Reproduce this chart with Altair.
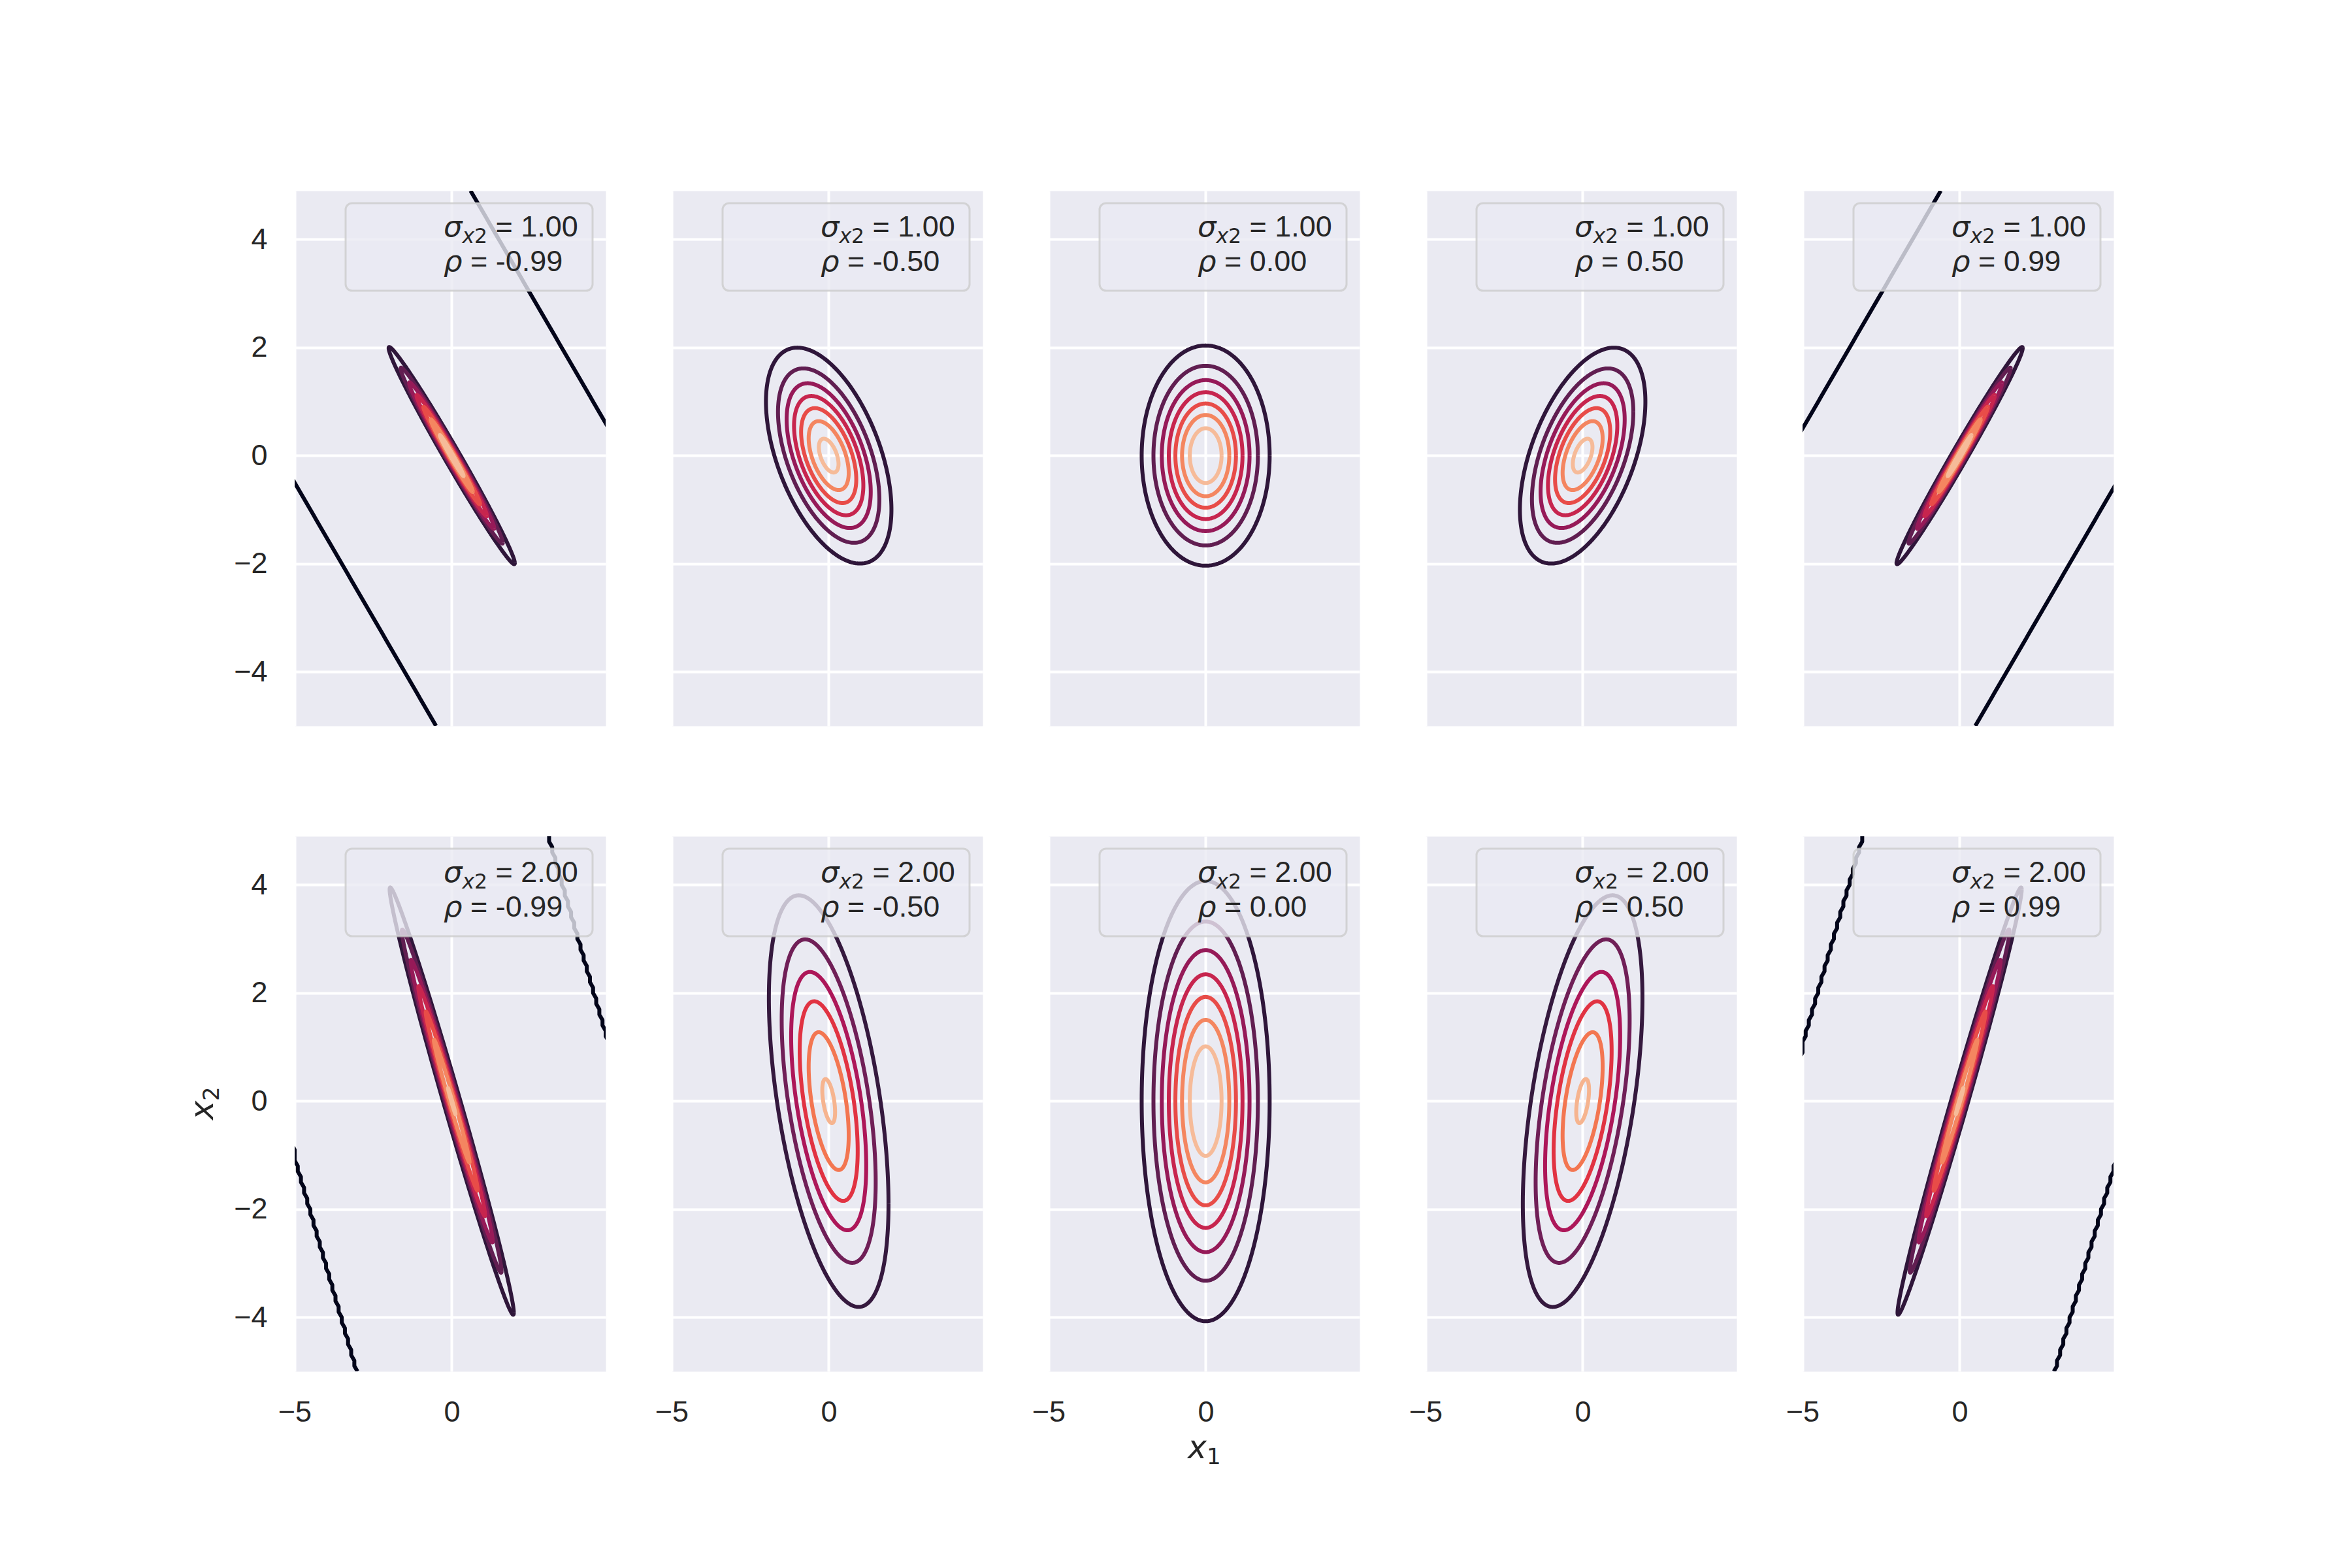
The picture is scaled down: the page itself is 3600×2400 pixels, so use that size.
import numpy as np
import pandas as pd
import altair as alt

# ---- data -------------------------------------------------------------------
sigma_x1 = 1.0
sigma_x2_rows = [1.0, 2.0]
rho_cols = [-0.99, -0.50, 0.00, 0.50, 0.99]

# contour levels of the density (per panel) and the top of the colour norm
levels_r0 = {
    -0.99: [0.0, 0.15, 0.30, 0.45, 0.60, 0.75, 0.90, 1.05],
    -0.50: [0.025, 0.05, 0.075, 0.10, 0.125, 0.15, 0.175],
    0.00: [0.02, 0.04, 0.06, 0.08, 0.10, 0.12, 0.14],
    0.50: [0.025, 0.05, 0.075, 0.10, 0.125, 0.15, 0.175],
    0.99: [0.0, 0.15, 0.30, 0.45, 0.60, 0.75, 0.90, 1.05],
}
vmax_r0 = {-0.99: 1.2, -0.50: 0.2, 0.00: 0.16, 0.50: 0.2, 0.99: 1.2}
levels_r1 = {
    -0.99: [0.0, 0.08, 0.16, 0.24, 0.32, 0.40, 0.48, 0.56],
    -0.50: [0.015, 0.03, 0.045, 0.06, 0.075, 0.09],
    0.00: [0.01, 0.02, 0.03, 0.04, 0.05, 0.06, 0.07],
    0.50: [0.015, 0.03, 0.045, 0.06, 0.075, 0.09],
    0.99: [0.0, 0.08, 0.16, 0.24, 0.32, 0.40, 0.48, 0.56],
}
vmax_r1 = {-0.99: 0.64, -0.50: 0.105, 0.00: 0.08, 0.50: 0.105, 0.99: 0.64}
# squared Mahalanobis distance where the density underflows to 0 (level-0 contour)
underflow_d2 = 1490.0
grid_step = 0.1   # sampling grid of the original density

x_ticks = [-5, 0]
y_ticks = [-4, -2, 0, 2, 4]
axis_domain = [-5, 4.9]

# rocket colormap anchors
rocket_pos = [0.0, 1 / 7, 2 / 7, 3 / 7, 4 / 7, 5 / 7, 6 / 7, 1.0]
rocket_hex = ["#03051A", "#35193E", "#701F57", "#AD1759", "#E13342", "#F37651", "#F6B48F", "#FAEBDD"]


def rocket(t):
    rgb = np.array([[int(h[i:i + 2], 16) for i in (1, 3, 5)] for h in rocket_hex], float)
    c = [np.interp(t, rocket_pos, rgb[:, k]) for k in range(3)]
    return "#%02x%02x%02x" % tuple(int(round(v)) for v in c)


def contour_frame(s2, rho, levels, vmax):
    rows = []
    m = 1.0 / (2 * np.pi * sigma_x1 * s2 * np.sqrt(1 - rho ** 2))
    for li, lev in enumerate(levels):
        col = rocket(lev / vmax)
        if lev <= 0:
            # level-0 contour: boundary of the underflow region, on the sampling grid
            D = underflow_d2
            ys = axis_domain[0] + grid_step * np.arange(0, 100)
            for sgn in (1, -1):
                k = 0
                for yv in ys:
                    q = (1 - rho ** 2) * (D - (yv / s2) ** 2)
                    xb = rho * yv / s2 * sigma_x1 + sgn * sigma_x1 * np.sqrt(q)
                    g = (xb - axis_domain[0]) / grid_step
                    g = np.ceil(g) if sgn > 0 else np.floor(g)
                    xs = axis_domain[0] + g * grid_step
                    if -5.3 <= xs <= 5.2:
                        rows.append((xs, yv, f"{li}_{sgn}", k, col, li))
                        k += 1
        else:
            d2 = 2 * np.log(m / lev)
            n = 400
            t = np.linspace(0, 2 * np.pi, n)
            d = np.sqrt(d2)
            x = sigma_x1 * d * np.cos(t)
            y = s2 * d * (rho * np.cos(t) + np.sqrt(1 - rho ** 2) * np.sin(t))
            for i in range(n):
                rows.append((x[i], y[i], f"{li}_0", i, col, li))
    return pd.DataFrame(rows, columns=["x", "y", "seg", "i", "color", "lev"])


TXT = "#262626"
W, H = 476, 819


def panel(r, c):
    s2 = sigma_x2_rows[r]
    rho = rho_cols[c]
    levels = (levels_r0 if r == 0 else levels_r1)[rho]
    vmax = (vmax_r0 if r == 0 else vmax_r1)[rho]
    df = contour_frame(s2, rho, levels, vmax)

    xa = dict(values=x_ticks, grid=True, gridColor="white", gridWidth=4,
              ticks=False, tickSize=0, domain=False, labels=(r == 1),
              labelFlush=False, labelOverlap=False, labelPadding=40,
              labelFont="Liberation Sans", labelFontSize=45, labelColor=TXT,
              labelExpr="replace(datum.label, '-', '\u2212')",
              minExtent=85, maxExtent=85, title=None)
    ya = dict(values=y_ticks, grid=True, gridColor="white", gridWidth=4,
              ticks=False, tickSize=0, domain=False, labels=(c == 0),
              labelFlush=False, labelOverlap=False, labelPadding=42,
              labelFont="Liberation Sans", labelFontSize=45, labelColor=TXT,
              labelExpr="replace(datum.label, '-', '\u2212')",
              minExtent=93, maxExtent=93, title=None)

    lines = alt.Chart(df).mark_line(clip=True, strokeWidth=6, strokeJoin="round").encode(
        x=alt.X("x:Q", scale=alt.Scale(domain=axis_domain, nice=False, zero=False), axis=alt.Axis(**xa)),
        y=alt.Y("y:Q", scale=alt.Scale(domain=axis_domain, nice=False, zero=False), axis=alt.Axis(**ya)),
        color=alt.Color("color:N", scale=None),
        detail="seg:N",
        order="i:Q",
    )

    leg = pd.DataFrame({
        "sig": ["= %.2f" % s2],
        "rho": ["= %.2f" % rho],
        "s": ["\u03c3"], "sx": ["x"], "s2": ["2"], "r": ["\u03c1"],
        "ax": ["x"], "a1": ["1"], "a2": ["2"],
    })
    box = alt.Chart(leg).mark_rect(
        cornerRadius=10, fill="#EAEAF2", fillOpacity=0.8,
        stroke="#CCCCCC", strokeOpacity=0.8, strokeWidth=3,
    ).encode(x=alt.value(78), x2=alt.value(456), y=alt.value(19), y2=alt.value(153))

    def txt(field, x, y, size, font, style="normal", angle=0):
        return alt.Chart(leg).mark_text(
            align="left", baseline="alphabetic", font=font, fontSize=size,
            fontStyle=style, color=TXT, angle=angle,
        ).encode(x=alt.value(x), y=alt.value(y), text=f"{field}:N")

    b1, b2 = 70, 123
    layers = [
        lines, box,
        txt("s", 228, b1, 45, "DejaVu Sans", "italic"),
        txt("sx", 256.5, b1 + 10, 31.5, "DejaVu Sans", "italic"),
        txt("s2", 275, b1 + 10, 31.5, "DejaVu Sans"),
        txt("sig", 307.5, b1, 45, "Liberation Sans"),
        txt("r", 228, b2, 45, "DejaVu Sans", "italic"),
        txt("rho", 269, b2, 45, "Liberation Sans"),
    ]
    # axis titles x1 (under the middle bottom panel) and x2 (left of the bottom-left panel)
    if r == 1 and c == 2:
        layers += [
            txt("ax", 213, 952, 49, "DejaVu Sans", "italic"),
            txt("a1", 242, 961, 34, "DejaVu Sans"),
        ]
    if r == 1 and c == 0:
        layers += [
            txt("ax", -124.7, 434, 49, "DejaVu Sans", "italic", angle=270),
            txt("a2", -116, 405, 34, "DejaVu Sans", angle=270),
        ]
    return alt.layer(*layers).properties(width=W, height=H)


panels = [panel(r, c) for r in range(2) for c in range(5)]

chart = alt.concat(*panels, columns=5, spacing={"row": 169, "column": 101}).properties(
    bounds="flush",
    padding={"left": 278, "top": 283, "right": 40, "bottom": 40},
    background="white",
).configure_view(fill="#EAEAF2", stroke="transparent")

chart.save("out.html", embed_options={"renderer": "svg", "actions": False})
